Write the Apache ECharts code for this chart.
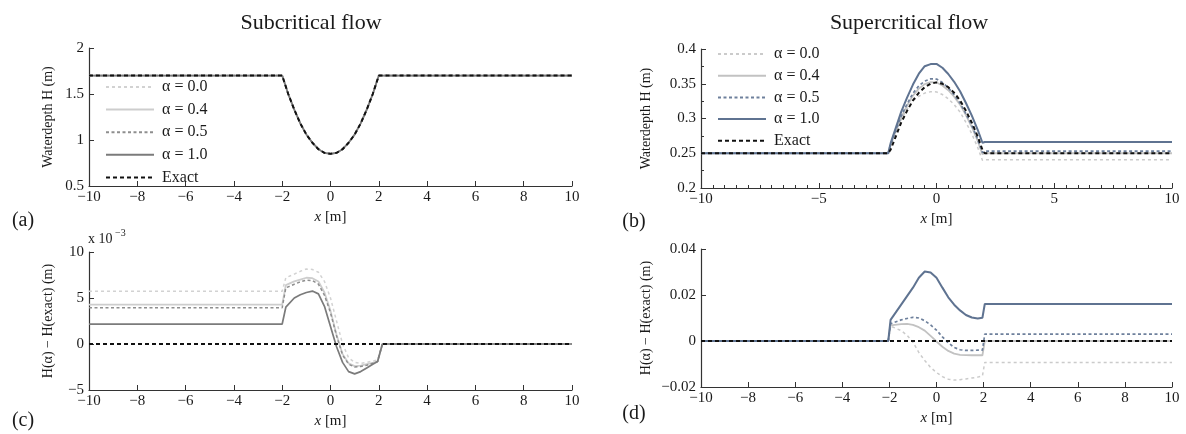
<!DOCTYPE html>
<html><head><meta charset="utf-8">
<script src="https://cdn.jsdelivr.net/npm/echarts@6.0.0/dist/echarts.min.js"></script>
<style>html,body{margin:0;padding:0;background:#fff}#c{width:1186px;height:434px}</style>
</head><body><div id="c"></div>
<script>
// ---------- data ----------
const panelTitles = ['Subcritical flow', 'Supercritical flow'];
const panelLetters = ['(a)', '(b)', '(c)', '(d)'];
const legendLabels = ['\u03b1 = 0.0', '\u03b1 = 0.4', '\u03b1 = 0.5', '\u03b1 = 1.0', 'Exact'];
const yTitleDepth = 'Waterdepth H (m)';
const yTitleDiff = 'H(\u03b1) \u2212 H(exact) (m)';

// (a) subcritical water depth
const xA = [-10, -2, -1.75, -1.5, -1.25, -1, -0.75, -0.5, -0.25, 0, 0.25, 0.5, 0.75, 1, 1.25, 1.5, 1.75, 2, 10];
const hA = [1.70, 1.70, 1.50, 1.33, 1.18, 1.06, 0.97, 0.90, 0.86, 0.85, 0.86, 0.90, 0.97, 1.06, 1.18, 1.33, 1.50, 1.70, 1.70];

// (c) subcritical difference (x 10^-3)
const xC = [-10, -2, -1.85, -1.5, -1.25, -1, -0.75, -0.5, -0.25, 0, 0.25, 0.5, 0.75, 1, 1.25, 1.5, 1.75, 1.95, 2.15, 10];
const cA00 = [5.73, 5.73, 7.2, 7.6, 7.9, 8.15, 8.1, 7.8, 6.8, 5.0, 2.5, 0.0, -1.5, -2.0, -2.1, -2.0, -1.85, -1.75, 0, 0];
const cA04 = [4.27, 4.27, 6.4, 6.8, 7.0, 7.2, 7.15, 6.8, 5.6, 3.6, 1.0, -1.1, -2.1, -2.4, -2.35, -2.2, -2.05, -1.9, 0, 0];
const cA05 = [3.95, 3.95, 6.1, 6.5, 6.75, 6.95, 6.9, 6.5, 5.3, 3.4, 0.9, -1.2, -2.2, -2.5, -2.45, -2.3, -2.1, -1.9, 0, 0];
const cA10 = [2.17, 2.17, 4.0, 5.0, 5.35, 5.6, 5.75, 5.45, 4.1, 1.9, -0.3, -2.0, -3.0, -3.25, -3.0, -2.6, -2.2, -1.9, 0, 0];
const cEx  = [0, 0, 0, 0, 0, 0, 0, 0, 0, 0, 0, 0, 0, 0, 0, 0, 0, 0, 0, 0];

// (b) supercritical water depth
const xB = [-10, -2.05, -1.95, -1.5, -1.25, -1, -0.75, -0.5, -0.25, 0, 0.25, 0.5, 0.75, 1, 1.25, 1.5, 1.75, 1.95, 2.05, 10];
const bEx  = [0.25, 0.25, 0.255, 0.294, 0.311, 0.326, 0.337, 0.345, 0.350, 0.352, 0.350, 0.345, 0.337, 0.326, 0.311, 0.294, 0.274, 0.255, 0.25, 0.25];
const bA00 = [0.25, 0.25, 0.2614, 0.2985, 0.3135, 0.3255, 0.332, 0.3365, 0.3385, 0.3383, 0.3345, 0.3284, 0.320, 0.3092, 0.2945, 0.2779, 0.2583, 0.2398, 0.2407, 0.2407];
const bA04 = [0.25, 0.25, 0.2618, 0.3013, 0.3184, 0.333, 0.343, 0.3495, 0.3522, 0.3518, 0.3475, 0.3407, 0.3315, 0.320, 0.3049, 0.2878, 0.2678, 0.2488, 0.25, 0.25];
const bA05 = [0.25, 0.25, 0.2625, 0.3032, 0.3208, 0.3363, 0.347, 0.3538, 0.357, 0.3567, 0.3518, 0.3442, 0.3342, 0.3222, 0.3069, 0.2899, 0.270, 0.251, 0.253, 0.253];
const bA10 = [0.25, 0.25, 0.2642, 0.3095, 0.330, 0.3488, 0.3645, 0.3752, 0.3783, 0.3785, 0.373, 0.364, 0.3528, 0.3393, 0.3223, 0.3042, 0.2838, 0.2651, 0.2661, 0.2661];

// (d) supercritical difference
const xD = [-10, -2.05, -1.95, -1.5, -1.25, -1, -0.75, -0.5, -0.25, 0, 0.25, 0.5, 0.75, 1, 1.25, 1.5, 1.75, 1.95, 2.05, 10];
const dA00 = [0, 0, 0.0065, 0.0045, 0.0025, -0.0005, -0.0050, -0.0085, -0.0115, -0.0137, -0.0155, -0.0166, -0.0170, -0.0168, -0.0165, -0.0161, -0.0157, -0.0152, -0.0093, -0.0093];
const dA04 = [0, 0, 0.0068, 0.0073, 0.0074, 0.0070, 0.0060, 0.0045, 0.0022, -0.0002, -0.0025, -0.0043, -0.0055, -0.0060, -0.0061, -0.0062, -0.0062, -0.0062, 0.0000, 0.0000];
const dA05 = [0, 0, 0.0075, 0.0092, 0.0098, 0.0103, 0.0100, 0.0088, 0.0070, 0.0047, 0.0018, -0.0008, -0.0028, -0.0038, -0.0041, -0.0041, -0.0040, -0.0040, 0.0030, 0.0030];
const dA10 = [0, 0, 0.0092, 0.0158, 0.0195, 0.0232, 0.0275, 0.0302, 0.0298, 0.0275, 0.0232, 0.019, 0.0158, 0.0133, 0.0113, 0.0102, 0.0098, 0.0101, 0.0161, 0.0161];
const dEx  = [0, 0, 0, 0, 0, 0, 0, 0, 0, 0, 0, 0, 0, 0, 0, 0, 0, 0, 0, 0];

// ---------- styles ----------
const SERIF = 'Liberation Serif, Times New Roman, serif';
const INK = '#1a1a1a';
const grayStyles = [
  {color: '#d2d2d2', width: 1.5, type: [3, 3]},
  {color: '#cdcdcd', width: 1.8, type: 'solid'},
  {color: '#8e8e8e', width: 1.5, type: [3, 2.5]},
  {color: '#7b7b7b', width: 1.7, type: 'solid'},
  {color: '#111111', width: 2, type: [4, 3]}
];
const blueStyles = [
  {color: '#cbcbcb', width: 1.5, type: [3, 3]},
  {color: '#c2c2c2', width: 1.8, type: 'solid'},
  {color: '#6e809c', width: 1.7, type: [3, 2.5]},
  {color: '#5f7391', width: 2, type: 'solid'},
  {color: '#111111', width: 2, type: [4, 3]}
];
const namesL = ['L0', 'L1', 'L2', 'L3', 'L4'];
const namesR = ['R0', 'R1', 'R2', 'R3', 'R4'];
const labelOf = {};
namesL.forEach((n, i) => labelOf[n] = legendLabels[i]);
namesR.forEach((n, i) => labelOf[n] = legendLabels[i]);

function mk(name, xs, ys, idx, st, z) {
  return {
    name, type: 'line', xAxisIndex: idx, yAxisIndex: idx,
    data: xs.map((x, i) => [x, ys[i]]),
    symbol: 'none', showSymbol: false, silent: true, z: z,
    lineStyle: {color: st.color, width: st.width, type: st.type},
    itemStyle: {color: st.color}
  };
}
const minus = v => String(v).replace('-', '\u2212');

const grids = [
  {left: 89, top: 48, width: 483, height: 138},
  {left: 701, top: 49, width: 471, height: 139},
  {left: 89, top: 252, width: 483, height: 138},
  {left: 701, top: 249, width: 471, height: 138}
];

function xAx(idx, interval, minor) {
  return {
    type: 'value', gridIndex: idx, min: -10, max: 10, interval: interval,
    name: '{i|x} [m]', nameLocation: 'middle', nameGap: 24,
    nameTextStyle: {fontFamily: SERIF, fontSize: 15, color: INK, rich: {i: {fontFamily: SERIF, fontSize: 15, fontStyle: 'italic', color: INK}}},
    axisLine: {show: true, onZero: false, lineStyle: {color: '#333', width: 1.2}},
    axisTick: {show: true, inside: true, length: 5, lineStyle: {color: '#333', width: 1}},
    minorTick: minor ? {show: true, splitNumber: minor, length: 3, lineStyle: {color: '#333', width: 1}} : {show: false},
    splitLine: {show: false}, minorSplitLine: {show: false},
    axisLabel: {fontFamily: SERIF, fontSize: 15, color: INK, margin: 4, formatter: minus}
  };
}
function yAx(idx, min, max, interval, name, gap, minor) {
  return {
    type: 'value', gridIndex: idx, min: min, max: max, interval: interval,
    name: name, nameLocation: 'middle', nameGap: gap,
    nameTextStyle: {fontFamily: SERIF, fontSize: 14, color: INK},
    axisLine: {show: true, onZero: false, lineStyle: {color: '#333', width: 1.2}},
    axisTick: {show: true, inside: true, length: 5, lineStyle: {color: '#333', width: 1}},
    minorTick: minor ? {show: true, splitNumber: minor, length: 3, lineStyle: {color: '#333', width: 1}} : {show: false},
    splitLine: {show: false}, minorSplitLine: {show: false},
    axisLabel: {fontFamily: SERIF, fontSize: 15, color: INK, margin: 5, formatter: minus}
  };
}

const series = [];
// panel a
[hA, hA, hA, hA, hA].forEach((ys, i) => series.push(mk(namesL[i], xA, ys, 0, grayStyles[i], 2 + i)));
// panel b
[bA00, bA04, bA05, bA10, bEx].forEach((ys, i) => series.push(mk(namesR[i], xB, ys, 1, blueStyles[i], 2 + i)));
// panel c
[cA00, cA04, cA05, cA10, cEx].forEach((ys, i) => series.push(mk(namesL[i], xC, ys, 2, grayStyles[i], 2 + i)));
// panel d
[dA00, dA04, dA05, dA10, dEx].forEach((ys, i) => series.push(mk(namesR[i], xD, ys, 3, blueStyles[i], 2 + i)));

function leg(names, left, top, gap) {
  return {
    data: names, orient: 'vertical', left: left, top: top,
    itemWidth: 48, itemHeight: 14, itemGap: gap, padding: 0,
    selectedMode: false,
    itemStyle: {opacity: 0, borderWidth: 0},
    textStyle: {fontFamily: SERIF, fontSize: 16, lineHeight: 16, color: INK, padding: [0, 0, 0, 3]},
    formatter: n => labelOf[n]
  };
}

function txt(x, y, text, size, align, extra) {
  return Object.assign({
    type: 'text', x: x, y: y, silent: true,
    style: {text: text, fontFamily: SERIF, fontSize: size, fill: INK, textAlign: align || 'center', textVerticalAlign: 'middle'}
  }, extra || {});
}

const option = {
  animation: false,
  backgroundColor: '#ffffff',
  grid: grids.map(g => Object.assign({outerBoundsMode: 'none', containLabel: false}, g)),
  xAxis: [xAx(0, 2, 0), xAx(1, 5, 10), xAx(2, 2, 0), xAx(3, 2, 0)],
  yAxis: [
    yAx(0, 0.5, 2, 0.5, yTitleDepth, 34, 0),
    yAx(1, 0.2, 0.4, 0.05, yTitleDepth, 48, 2),
    yAx(2, -5, 10, 5, yTitleDiff, 34, 0),
    yAx(3, -0.02, 0.04, 0.02, yTitleDiff, 48, 0)
  ],
  legend: [leg(namesL, 105, 79, 6.6), leg(namesR, 717, 46, 5.7)],
  series: series,
  graphic: [
    txt(311, 23, panelTitles[0], 22),
    txt(909, 23, panelTitles[1], 22),
    txt(23, 221, panelLetters[0], 20),
    txt(634, 222, panelLetters[1], 20),
    txt(23, 421, panelLetters[2], 20),
    txt(634, 414, panelLetters[3], 20),
    txt(88, 239, 'x 10', 14, 'left'),
    txt(115, 233, '\u22123', 10, 'left')
  ]
};

const chart = echarts.init(document.getElementById('c'), null, {renderer: 'canvas'});
chart.setOption(option);
</script>
</body></html>
